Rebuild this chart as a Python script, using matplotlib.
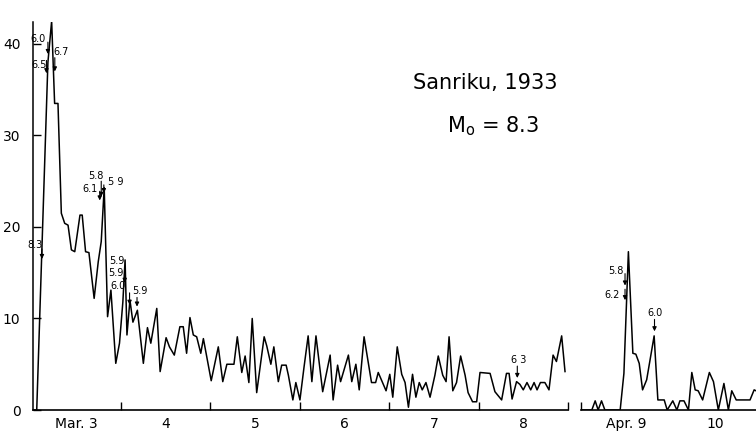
import matplotlib.pyplot as plt

# Hourly aftershock counts, Sanriku 1933 (hours from Mar. 3, 00h)
mar_hours = [0.5, 1.5, 2.5, 3.5, 4.5, 5.5, 6.3, 7.2, 8.1, 9.0, 9.9, 10.8, 11.7, 13.1, 13.7,
             14.6, 15.5, 16.9, 18.0, 18.8, 19.6, 20.5, 21.4, 22.7, 23.7, 24.6, 25.2, 25.7,
             26.5, 27.3, 28.5, 30.1, 31.2, 32.1, 33.7, 34.6, 36.2, 37.1, 38.4, 39.9, 40.8,
             41.7, 42.6, 43.5, 44.4, 45.5, 46.2, 48.3, 50.2, 51.4, 52.5, 54.4, 55.3, 56.5,
             57.4, 58.4, 59.3, 60.5, 62.5, 63.2, 64.3, 65.1, 66.3, 67.2, 68.4, 69.0, 70.2,
             71.0, 72.1, 73.2, 74.3, 75.3, 76.4, 78.2, 80.2, 81.0, 82.2, 83.0, 85.1, 86.0,
             87.1, 88.0, 89.3, 91.3, 92.4, 93.1, 95.2, 96.2, 97.0, 98.2, 99.4, 100.3, 101.2,
             102.3, 103.2, 104.1, 104.9, 105.9, 107.0, 108.3, 109.2, 110.4, 111.3, 112.1,
             113.1, 114.1, 115.2, 116.4, 117.2, 118.4, 119.5, 120.4, 123.1, 124.4, 126.2,
             127.5, 128.2, 129.0, 130.2, 131.1, 132.0, 133.0, 134.0, 134.9, 135.7, 136.6,
             137.8, 138.9, 140.0, 140.9, 142.3, 143.2]
mar_counts = [0, 0, 12.6, 25, 38, 42.5, 33.5, 33.5, 21.5, 20.4, 20.2, 17.5, 17.3, 21.3, 21.3,
              17.3, 17.2, 12.2, 16.2, 18.4, 24.3, 10.2, 13.1, 5.1, 7.3, 11.8, 16.4, 8.2,
              12, 9.6, 10.9, 5.1, 9, 7.3, 11.1, 4.2, 7.9, 6.9, 6, 9.1, 9.1,
              6.2, 10.1, 8.2, 8, 6.2, 7.8, 3.2, 6.9, 3.1, 5, 5, 8, 4.1,
              5.9, 3, 10, 1.9, 8, 7, 5, 6.9, 3.1, 4.9, 4.9, 3.8, 1.1,
              3, 1.1, 4.7, 8.1, 3.1, 8.1, 2, 6, 1.1, 4.9, 3.1, 6, 3.1,
              5, 2.2, 8, 3, 3, 4.1, 2.1, 3.9, 1.4, 6.9, 3.9, 3, 0.3,
              3.9, 1.4, 3, 2.2, 3, 1.4, 3.8, 5.9, 3.8, 3.1, 8,
              2.1, 3, 5.9, 3.8, 1.9, 0.9, 0.9, 4.1, 4, 2, 1.1,
              4, 4, 1.2, 3.1, 2.8, 2.2, 3, 2.2, 3, 2.2, 3,
              3, 2.2, 6, 5.3, 8.1, 4.2]

# hours from Apr. 9, 00h
apr_hours = [0, 2.9, 3.8, 4.6, 5.5, 6.4, 10.5, 11.5, 12.7, 13.9, 14.7, 15.6, 16.5, 17.6,
             19.6, 20.6, 22.3, 23.1, 24.6, 25.7, 26.5, 27.6, 28.8, 29.7, 30.6, 31.4, 32.6,
             34.4, 35.5, 36.8, 38.3, 39.5, 40.4, 41.6, 45.3, 46.4, 47.4]
apr_counts = [0, 0, 1, 0, 1, 0, 0, 4, 17.3, 6.2, 6.1, 5.1, 2.2, 3.3,
              8.1, 1.1, 1.1, 0, 1, 0, 1, 1, 0, 4.1, 2.2, 2.1, 1.1,
              4.1, 3.1, 0, 2.9, 0, 2.1, 1.1, 1.1, 2.2, 2.0]

mar_days = ['Mar. 3', '4', '5', '6', '7', '8']
apr_days = ['Apr. 9', '10']

# magnitude labels: (text, text x, text y, arrow x, arrow top, arrow tip)
mar_mags = [('6.0', 1.9, 40.5, 4.5, 40.2, 38.9),
            ('6.5', 2.1, 37.7, 4.1, 38.2, 36.8),
            ('6.7', 7.9, 39.1, 6.35, 38.5, 37.0),
            ('8.3', 1.1, 18.0, 2.9, 17.6, 16.5),
            ('5.8', 17.3, 25.6, 18.8, 25.0, 23.3),
            ('6.1', 15.8, 24.2, 18.4, 23.9, 22.9),
            ('5 9', 22.6, 24.9, 19.5, 24.6, 23.7),
            ('5.9', 22.9, 16.3, None, None, None),
            ('5.9', 22.7, 15.0, 25.1, 14.9, 13.9),
            ('6.0', 23.4, 13.6, 26.4, 12.8, 11.5),
            ('5.9', 29.2, 13.0, 28.4, 12.3, 11.3),
            ('6 3', 130.9, 5.5, 130.4, 4.8, 3.5)]
apr_mags = [('5.8', 9.4, 15.2, 11.8, 14.9, 13.6),
            ('6.2', 8.3, 12.6, 11.8, 13.2, 12.0),
            ('6.0', 19.7, 10.6, 19.7, 9.9, 8.6)]

plt.rcParams['font.family'] = 'DejaVu Sans'

fig = plt.figure(figsize=(7.56, 4.33), dpi=100)
ax1 = fig.add_axes([33 / 756, 23 / 433, 535 / 756, 388 / 433])
ax2 = fig.add_axes([581 / 756, 23 / 433, 175 / 756, 388 / 433])

YTOP = 42.4


def mark_mags(ax, mags):
    for txt, tx, ty, axx, ay0, ay1 in mags:
        ax.text(tx, ty, txt, fontsize=7, ha='center', va='center')
        if axx is not None:
            ax.annotate('', xy=(axx, ay1), xytext=(axx, ay0),
                        arrowprops=dict(arrowstyle='-|>', lw=0.8, color='k',
                                        mutation_scale=6, shrinkA=0, shrinkB=0))


ax1.plot(mar_hours, mar_counts, color='k', lw=1.1)
ax1.set_xlim(0.5, 144)
ax1.set_ylim(0, YTOP)
ax1.set_yticks([0, 10, 20, 30, 40])
ax1.tick_params(axis='y', direction='in', length=6, width=1, pad=9, labelsize=10)
ax1.set_xticks(range(24, 145, 24))
ax1.set_xticks(range(12, 144, 24), minor=True)
ax1.set_xticklabels([])
ax1.set_xticklabels(mar_days, minor=True)
ax1.tick_params(axis='x', which='major', direction='in', length=6, width=1)
ax1.tick_params(axis='x', which='minor', length=0, pad=5, labelsize=10)
for s in ['top', 'right']:
    ax1.spines[s].set_visible(False)
ax1.spines['left'].set_linewidth(1.1)
ax1.spines['bottom'].set_linewidth(1.2)
mark_mags(ax1, mar_mags)

fig.text(485 / 756, 1 - 83 / 433, 'Sanriku, 1933', fontsize=15, ha='center', va='center')
fig.text(493 / 756, 1 - 126 / 433, r'M$_\mathregular{o}$ = 8.3', fontsize=15,
         ha='center', va='center')

ax2.plot(apr_hours, apr_counts, color='k', lw=1.1)
ax2.set_xlim(0, 46.9)
ax2.set_ylim(0, YTOP)
ax2.set_yticks([])
ax2.set_xticks([0])
ax2.set_xticks([12, 36], minor=True)
ax2.set_xticklabels([''])
ax2.set_xticklabels(apr_days, minor=True)
ax2.tick_params(axis='x', which='major', direction='in', length=6, width=1)
ax2.tick_params(axis='x', which='minor', length=0, pad=5, labelsize=10)
for s in ['top', 'right', 'left']:
    ax2.spines[s].set_visible(False)
ax2.spines['bottom'].set_linewidth(1.2)
mark_mags(ax2, apr_mags)

fig.savefig('out.png', dpi=100)
